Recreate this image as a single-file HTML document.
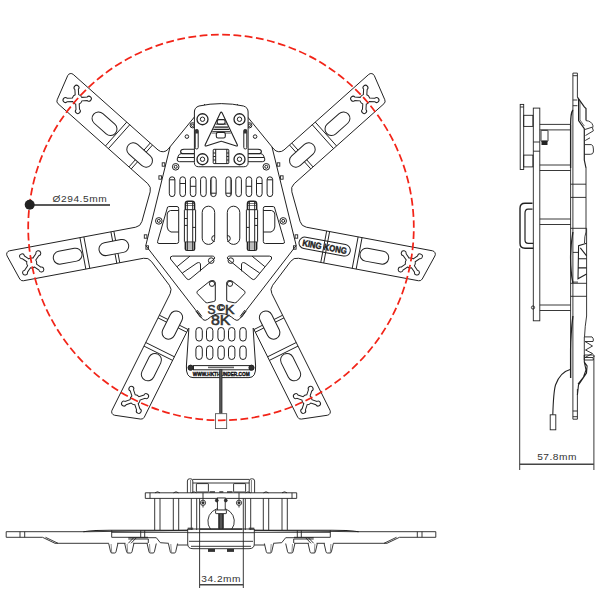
<!DOCTYPE html>
<html><head><meta charset="utf-8"><style>
html,body{margin:0;padding:0;background:#fff;font-family:"Liberation Sans",sans-serif;}
svg{display:block;}
</style></head><body>
<svg width="600" height="612" viewBox="0 0 600 612">
<g fill="none" stroke="#222" stroke-width="1.0"><path d="M205,104 L168.13,149.18 A7,7 0 0 1 158.05,149.99 L73.23,74.41 A3.5,3.5 0 0 0 67.69,75.63 L57.19,99.75 A3.5,3.5 0 0 0 58.07,103.76 L147.79,183.7 A8,8 0 0 1 150.17,191.82 L141.92,221.47 A8,8 0 0 1 135.69,227.19 L9.51,250.8 A3.5,3.5 0 0 0 7.09,255.93 L19.75,278.99 A3.5,3.5 0 0 0 23.46,280.75 L143.46,258.29 A8,8 0 0 1 151.32,261.33 L169.37,285.25 A8,8 0 0 1 170.15,293.64 L112.01,410.24 A3.5,3.5 0 0 0 114.64,415.26 L140.67,419.08 A3.5,3.5 0 0 0 144.31,417.17 L188.69,328.16"/>
<path d="M237,104 L273.87,149.18 A7,7 0 0 0 283.95,149.99 L368.77,74.41 A3.5,3.5 0 0 1 374.31,75.63 L384.81,99.75 A3.5,3.5 0 0 1 383.93,103.76 L294.21,183.7 A8,8 0 0 0 291.83,191.82 L300.08,221.47 A8,8 0 0 0 306.31,227.19 L432.49,250.8 A3.5,3.5 0 0 1 434.91,255.93 L422.25,278.99 A3.5,3.5 0 0 1 418.54,280.75 L298.54,258.29 A8,8 0 0 0 290.68,261.33 L272.63,285.25 A8,8 0 0 0 271.85,293.64 L329.99,410.24 A3.5,3.5 0 0 1 327.36,415.26 L301.33,419.08 A3.5,3.5 0 0 1 297.69,417.17 L253.31,328.16"/>
<path transform="translate(77.2,99.38) rotate(266.7)" d="M4.68,-1.75 L9.99,-1.75 A2.45,2.45 0 1 1 9.99,1.75 L4.68,1.75 A5,5 0 0 1 1.75,4.68 L1.75,9.99 A2.45,2.45 0 1 1 -1.75,9.99 L-1.75,4.68 A5,5 0 0 1 -4.68,1.75 L-9.99,1.75 A2.45,2.45 0 1 1 -9.99,-1.75 L-4.68,-1.75 A5,5 0 0 1 -1.75,-4.68 L-1.75,-9.99 A2.45,2.45 0 1 1 1.75,-9.99 L1.75,-4.68 A5,5 0 0 1 4.68,-1.75 Z"/>
<path transform="translate(104.52,123.72) rotate(221.7)" d="M-8,-6.5 L8,-6.5 A6.5,6.5 0 0 1 8,6.5 L-8,6.5 A6.5,6.5 0 0 1 -8,-6.5 Z"/>
<line x1="129.73" y1="124.75" x2="108.44" y2="148.64" />
<line x1="126.74" y1="122.09" x2="105.45" y2="145.98" />
<path transform="translate(139.62,154.99) rotate(221.7)" d="M-8.5,-6.5 L8.5,-6.5 A6.5,6.5 0 0 1 8.5,6.5 L-8.5,6.5 A6.5,6.5 0 0 1 -8.5,-6.5 Z"/>
<line x1="152.5" y1="145.04" x2="146.18" y2="152.13" />
<line x1="137.53" y1="161.84" x2="131.21" y2="168.93" />
<line x1="150.26" y1="143.04" x2="143.94" y2="150.14" />
<line x1="135.29" y1="159.84" x2="128.97" y2="166.94" />
<path transform="translate(364.8,99.38) rotate(3.3)" d="M4.68,-1.75 L9.99,-1.75 A2.45,2.45 0 1 1 9.99,1.75 L4.68,1.75 A5,5 0 0 1 1.75,4.68 L1.75,9.99 A2.45,2.45 0 1 1 -1.75,9.99 L-1.75,4.68 A5,5 0 0 1 -4.68,1.75 L-9.99,1.75 A2.45,2.45 0 1 1 -9.99,-1.75 L-4.68,-1.75 A5,5 0 0 1 -1.75,-4.68 L-1.75,-9.99 A2.45,2.45 0 1 1 1.75,-9.99 L1.75,-4.68 A5,5 0 0 1 4.68,-1.75 Z"/>
<path transform="translate(337.48,123.72) rotate(-41.7)" d="M-8,-6.5 L8,-6.5 A6.5,6.5 0 0 1 8,6.5 L-8,6.5 A6.5,6.5 0 0 1 -8,-6.5 Z"/>
<line x1="312.27" y1="124.75" x2="333.56" y2="148.64" />
<line x1="315.26" y1="122.09" x2="336.55" y2="145.98" />
<path transform="translate(302.38,154.99) rotate(-41.7)" d="M-8.5,-6.5 L8.5,-6.5 A6.5,6.5 0 0 1 8.5,6.5 L-8.5,6.5 A6.5,6.5 0 0 1 -8.5,-6.5 Z"/>
<line x1="289.5" y1="145.04" x2="295.82" y2="152.13" />
<line x1="304.47" y1="161.84" x2="310.79" y2="168.93" />
<line x1="291.74" y1="143.04" x2="298.06" y2="150.14" />
<line x1="306.71" y1="159.84" x2="313.03" y2="166.94" />
<path transform="translate(31.69,262.93) rotate(214.4)" d="M4.68,-1.75 L9.99,-1.75 A2.45,2.45 0 1 1 9.99,1.75 L4.68,1.75 A5,5 0 0 1 1.75,4.68 L1.75,9.99 A2.45,2.45 0 1 1 -1.75,9.99 L-1.75,4.68 A5,5 0 0 1 -4.68,1.75 L-9.99,1.75 A2.45,2.45 0 1 1 -9.99,-1.75 L-4.68,-1.75 A5,5 0 0 1 -1.75,-4.68 L-1.75,-9.99 A2.45,2.45 0 1 1 1.75,-9.99 L1.75,-4.68 A5,5 0 0 1 4.68,-1.75 Z"/>
<path transform="translate(67.66,256.2) rotate(169.4)" d="M-8,-6.5 L8,-6.5 A6.5,6.5 0 0 1 8,6.5 L-8,6.5 A6.5,6.5 0 0 1 -8,-6.5 Z"/>
<line x1="83.89" y1="236.88" x2="89.77" y2="268.34" />
<line x1="79.95" y1="237.62" x2="85.84" y2="269.07" />
<path transform="translate(113.86,247.55) rotate(169.4)" d="M-8.5,-6.5 L8.5,-6.5 A6.5,6.5 0 0 1 8.5,6.5 L-8.5,6.5 A6.5,6.5 0 0 1 -8.5,-6.5 Z"/>
<line x1="113.87" y1="231.27" x2="115.61" y2="240.61" />
<line x1="118" y1="253.39" x2="119.75" y2="262.73" />
<line x1="110.92" y1="231.82" x2="112.66" y2="241.16" />
<line x1="115.06" y1="253.94" x2="116.8" y2="263.28" />
<path transform="translate(410.31,262.93) rotate(55.6)" d="M4.68,-1.75 L9.99,-1.75 A2.45,2.45 0 1 1 9.99,1.75 L4.68,1.75 A5,5 0 0 1 1.75,4.68 L1.75,9.99 A2.45,2.45 0 1 1 -1.75,9.99 L-1.75,4.68 A5,5 0 0 1 -4.68,1.75 L-9.99,1.75 A2.45,2.45 0 1 1 -9.99,-1.75 L-4.68,-1.75 A5,5 0 0 1 -1.75,-4.68 L-1.75,-9.99 A2.45,2.45 0 1 1 1.75,-9.99 L1.75,-4.68 A5,5 0 0 1 4.68,-1.75 Z"/>
<path transform="translate(374.34,256.2) rotate(10.6)" d="M-8,-6.5 L8,-6.5 A6.5,6.5 0 0 1 8,6.5 L-8,6.5 A6.5,6.5 0 0 1 -8,-6.5 Z"/>
<line x1="358.11" y1="236.88" x2="352.23" y2="268.34" />
<line x1="362.05" y1="237.62" x2="356.16" y2="269.07" />
<line x1="326.66" y1="231" x2="320.77" y2="262.45" />
<line x1="329.61" y1="231.55" x2="323.72" y2="263" />
<g transform="translate(324.66,246.59) rotate(10.6)"><path d="M-20.2,-5.8 L20.2,-5.8 A5.8,5.8 0 0 1 20.2,5.8 L-20.2,5.8 A5.8,5.8 0 0 1 -20.2,-5.8 Z"/><text x="-22.5" y="3.4" font-family="Liberation Sans, sans-serif" font-weight="bold" font-size="9" fill="#222" stroke="#222" stroke-width="0.45" textLength="45" lengthAdjust="spacingAndGlyphs">KING KONG</text></g>
<path transform="translate(135.06,399.86) rotate(161.5)" d="M4.68,-1.75 L9.99,-1.75 A2.45,2.45 0 1 1 9.99,1.75 L4.68,1.75 A5,5 0 0 1 1.75,4.68 L1.75,9.99 A2.45,2.45 0 1 1 -1.75,9.99 L-1.75,4.68 A5,5 0 0 1 -4.68,1.75 L-9.99,1.75 A2.45,2.45 0 1 1 -9.99,-1.75 L-4.68,-1.75 A5,5 0 0 1 -1.75,-4.68 L-1.75,-9.99 A2.45,2.45 0 1 1 1.75,-9.99 L1.75,-4.68 A5,5 0 0 1 4.68,-1.75 Z"/>
<path transform="translate(151.39,367.11) rotate(116.5)" d="M-8,-6.5 L8,-6.5 A6.5,6.5 0 0 1 8,6.5 L-8,6.5 A6.5,6.5 0 0 1 -8,-6.5 Z"/>
<line x1="145.78" y1="342.52" x2="174.41" y2="356.8" />
<line x1="143.99" y1="346.1" x2="172.63" y2="360.38" />
<path transform="translate(172.36,325.05) rotate(116.5)" d="M-8.5,-6.5 L8.5,-6.5 A6.5,6.5 0 0 1 8.5,6.5 L-8.5,6.5 A6.5,6.5 0 0 1 -8.5,-6.5 Z"/>
<line x1="159.38" y1="315.22" x2="167.89" y2="319.46" />
<line x1="179.52" y1="325.26" x2="188.02" y2="329.5" />
<line x1="158.05" y1="317.91" x2="166.55" y2="322.15" />
<line x1="178.18" y1="327.95" x2="186.68" y2="332.19" />
<path transform="translate(306.94,399.86) rotate(108.5)" d="M4.68,-1.75 L9.99,-1.75 A2.45,2.45 0 1 1 9.99,1.75 L4.68,1.75 A5,5 0 0 1 1.75,4.68 L1.75,9.99 A2.45,2.45 0 1 1 -1.75,9.99 L-1.75,4.68 A5,5 0 0 1 -4.68,1.75 L-9.99,1.75 A2.45,2.45 0 1 1 -9.99,-1.75 L-4.68,-1.75 A5,5 0 0 1 -1.75,-4.68 L-1.75,-9.99 A2.45,2.45 0 1 1 1.75,-9.99 L1.75,-4.68 A5,5 0 0 1 4.68,-1.75 Z"/>
<path transform="translate(290.61,367.11) rotate(63.5)" d="M-8,-6.5 L8,-6.5 A6.5,6.5 0 0 1 8,6.5 L-8,6.5 A6.5,6.5 0 0 1 -8,-6.5 Z"/>
<line x1="296.22" y1="342.52" x2="267.59" y2="356.8" />
<line x1="298.01" y1="346.1" x2="269.37" y2="360.38" />
<path transform="translate(269.64,325.05) rotate(63.5)" d="M-8.5,-6.5 L8.5,-6.5 A6.5,6.5 0 0 1 8.5,6.5 L-8.5,6.5 A6.5,6.5 0 0 1 -8.5,-6.5 Z"/>
<line x1="282.62" y1="315.22" x2="274.11" y2="319.46" />
<line x1="262.48" y1="325.26" x2="253.98" y2="329.5" />
<line x1="283.95" y1="317.91" x2="275.45" y2="322.15" />
<line x1="263.82" y1="327.95" x2="255.32" y2="332.19" />
<path d="M170,147 L145.8,245.5 L203,319.6 Q205,321.2 207.5,319.4 C212,315.5 215.5,313.6 221,313.6"/>
<rect x="162.2" y="162.8" width="2.6" height="3.4" rx="0" stroke-width="0.9"/>
<rect x="158.9" y="175.8" width="2.6" height="3.4" rx="0" stroke-width="0.9"/>
<rect x="144.3" y="234.8" width="2.6" height="3.4" rx="0" stroke-width="0.9"/>
<rect x="145.9" y="245.8" width="2.6" height="3.4" rx="0" stroke-width="0.9"/>
<line x1="195.8" y1="311" x2="200.6" y2="317.5" /><line x1="197.2" y1="310.2" x2="201.8" y2="316.4" />
<circle cx="175.7" cy="166.8" r="3.3" />
<circle cx="175.7" cy="166.8" r="1.5" />
<circle cx="158.8" cy="220.9" r="3.3" />
<circle cx="158.8" cy="220.9" r="1.5" />
<rect x="169.3" y="176.8" width="5.6" height="19.8" rx="2.8" />
<rect x="179.9" y="176.8" width="5.6" height="19.8" rx="2.8" />
<rect x="190.3" y="176.8" width="5.6" height="19.8" rx="2.8" />
<rect x="200.6" y="176.8" width="5.6" height="19.8" rx="2.8" />
<rect x="210.6" y="176.8" width="5.6" height="19.8" rx="2.8" />
<line x1="169.3" y1="179.8" x2="174.9" y2="179.8" />
<line x1="179.9" y1="183.5" x2="185.5" y2="183.5" />
<line x1="190.3" y1="186.3" x2="195.9" y2="186.3" />
<line x1="210.6" y1="193.2" x2="216.2" y2="193.2" />
<line x1="211.6" y1="178" x2="211.6" y2="195" stroke-width="0.6"/>
<g stroke-width="1"><path d="M185.3,209.7 L185.3,204 Q185.3,201.3 188,201.3 L192,201.3 Q194.6,201.3 194.6,204 L194.6,209.7" stroke-width="1.4"/><path d="M185.3,242 L185.3,249 Q185.3,250.4 187,250.4 L193,250.4 Q194.6,250.4 194.6,249 L194.6,242" stroke-width="1.4"/><line x1="185.8" y1="244" x2="194.1" y2="244" stroke-width="0.6"/><line x1="185.8" y1="246" x2="194.1" y2="246" stroke-width="0.6"/><line x1="185.8" y1="248" x2="194.1" y2="248" stroke-width="0.6"/><line x1="185.8" y1="203.5" x2="194.1" y2="203.5" stroke-width="0.6"/><line x1="185.8" y1="205.5" x2="194.1" y2="205.5" stroke-width="0.6"/><rect x="184.4" y="209.7" width="11.2" height="32.3" rx="0.5" /><line x1="187.3" y1="201.5" x2="187.3" y2="250" /><line x1="192.7" y1="201.5" x2="192.7" y2="250" /><line x1="184.4" y1="218.5" x2="187.3" y2="218.5" /><line x1="184.4" y1="225.4" x2="187.3" y2="225.4" /><line x1="192.7" y1="227.4" x2="195.6" y2="227.4" /></g>
<rect x="202.2" y="206.2" width="12.5" height="38.2" rx="6.25" />
<path d="M214.7,235.5 A3,3 0 1 0 214.7,241.5"/>
<path d="M167.6,207 Q168.5,206.5 170,206.5 L177,206.5 Q178.7,206.5 178.7,208.5 L178.7,241.5 Q178.7,243.5 176.7,243.5 L159,243.5 Q157,243.5 157.6,241.5 Z"/>
<path d="M178.7,210.5 L170.5,210.5 Q167.5,211 167.2,214 L167.2,227 Q167.5,231 171,232 L178.7,232"/>
<path d="M172.5,256.1 L212.5,256.1 Q215.5,256.5 214.2,259 L190,279 Q188.3,280.3 186.8,278.8 L170.5,259 Q169.5,256.3 172.5,256.1 Z"/>
<circle cx="211.2" cy="260.6" r="2.8" />
<line x1="177.2" y1="266.6" x2="190" y2="256.1" />
<path d="M182.4,273 L197,263 Q200.5,261.5 200.5,265 L200.5,271.3"/>
<path d="M197.3,291.2 L210,281 Q212,280.3 214,280.8 Q215.3,281.5 215.3,283 L215.3,300 Q215.2,301.3 213.8,301.5 L207.5,302.8 Q206,303 205,301.8 L197.3,293.5 Q196.6,292.3 197.3,291.2 Z"/>
<circle cx="212" cy="283.8" r="2.6" /><g transform="translate(442,0) scale(-1,1)"><path d="M170,147 L145.8,245.5 L203,319.6 Q205,321.2 207.5,319.4 C212,315.5 215.5,313.6 221,313.6"/>
<rect x="162.2" y="162.8" width="2.6" height="3.4" rx="0" stroke-width="0.9"/>
<rect x="158.9" y="175.8" width="2.6" height="3.4" rx="0" stroke-width="0.9"/>
<rect x="144.3" y="234.8" width="2.6" height="3.4" rx="0" stroke-width="0.9"/>
<rect x="145.9" y="245.8" width="2.6" height="3.4" rx="0" stroke-width="0.9"/>
<line x1="195.8" y1="311" x2="200.6" y2="317.5" /><line x1="197.2" y1="310.2" x2="201.8" y2="316.4" />
<circle cx="175.7" cy="166.8" r="3.3" />
<circle cx="175.7" cy="166.8" r="1.5" />
<circle cx="158.8" cy="220.9" r="3.3" />
<circle cx="158.8" cy="220.9" r="1.5" />
<rect x="169.3" y="176.8" width="5.6" height="19.8" rx="2.8" />
<rect x="179.9" y="176.8" width="5.6" height="19.8" rx="2.8" />
<rect x="190.3" y="176.8" width="5.6" height="19.8" rx="2.8" />
<rect x="200.6" y="176.8" width="5.6" height="19.8" rx="2.8" />
<rect x="210.6" y="176.8" width="5.6" height="19.8" rx="2.8" />
<line x1="169.3" y1="179.8" x2="174.9" y2="179.8" />
<line x1="179.9" y1="183.5" x2="185.5" y2="183.5" />
<line x1="190.3" y1="186.3" x2="195.9" y2="186.3" />
<line x1="210.6" y1="193.2" x2="216.2" y2="193.2" />
<line x1="211.6" y1="178" x2="211.6" y2="195" stroke-width="0.6"/>
<g stroke-width="1"><path d="M185.3,209.7 L185.3,204 Q185.3,201.3 188,201.3 L192,201.3 Q194.6,201.3 194.6,204 L194.6,209.7" stroke-width="1.4"/><path d="M185.3,242 L185.3,249 Q185.3,250.4 187,250.4 L193,250.4 Q194.6,250.4 194.6,249 L194.6,242" stroke-width="1.4"/><line x1="185.8" y1="244" x2="194.1" y2="244" stroke-width="0.6"/><line x1="185.8" y1="246" x2="194.1" y2="246" stroke-width="0.6"/><line x1="185.8" y1="248" x2="194.1" y2="248" stroke-width="0.6"/><line x1="185.8" y1="203.5" x2="194.1" y2="203.5" stroke-width="0.6"/><line x1="185.8" y1="205.5" x2="194.1" y2="205.5" stroke-width="0.6"/><rect x="184.4" y="209.7" width="11.2" height="32.3" rx="0.5" /><line x1="187.3" y1="201.5" x2="187.3" y2="250" /><line x1="192.7" y1="201.5" x2="192.7" y2="250" /><line x1="184.4" y1="218.5" x2="187.3" y2="218.5" /><line x1="184.4" y1="225.4" x2="187.3" y2="225.4" /><line x1="192.7" y1="227.4" x2="195.6" y2="227.4" /></g>
<rect x="202.2" y="206.2" width="12.5" height="38.2" rx="6.25" />
<path d="M214.7,235.5 A3,3 0 1 0 214.7,241.5"/>
<path d="M167.6,207 Q168.5,206.5 170,206.5 L177,206.5 Q178.7,206.5 178.7,208.5 L178.7,241.5 Q178.7,243.5 176.7,243.5 L159,243.5 Q157,243.5 157.6,241.5 Z"/>
<path d="M178.7,210.5 L170.5,210.5 Q167.5,211 167.2,214 L167.2,227 Q167.5,231 171,232 L178.7,232"/>
<path d="M172.5,256.1 L212.5,256.1 Q215.5,256.5 214.2,259 L190,279 Q188.3,280.3 186.8,278.8 L170.5,259 Q169.5,256.3 172.5,256.1 Z"/>
<circle cx="211.2" cy="260.6" r="2.8" />
<line x1="177.2" y1="266.6" x2="190" y2="256.1" />
<path d="M182.4,273 L197,263 Q200.5,261.5 200.5,265 L200.5,271.3"/>
<path d="M197.3,291.2 L210,281 Q212,280.3 214,280.8 Q215.3,281.5 215.3,283 L215.3,300 Q215.2,301.3 213.8,301.5 L207.5,302.8 Q206,303 205,301.8 L197.3,293.5 Q196.6,292.3 197.3,291.2 Z"/>
<circle cx="212" cy="283.8" r="2.6" /></g>
<path d="M194,149.3 L184,149.3 Q180.6,149.5 180.6,151.6 Q180.8,153.7 183.3,153.7 L194,153.7" stroke-width="1.1"/><path d="M194,153.6 L181.5,153.6 Q179,153.7 178.3,156 L177.2,159 Q176.6,161.7 179.6,161.7 L194,161.7"/><line x1="178" y1="157.5" x2="194" y2="157.5" /><circle cx="192.7" cy="125.3" r="2.6" /><circle cx="192.7" cy="125.3" r="1.2" /><circle cx="186.9" cy="136.6" r="1.8" /><g transform="translate(442,0) scale(-1,1)"><path d="M194,149.3 L184,149.3 Q180.6,149.5 180.6,151.6 Q180.8,153.7 183.3,153.7 L194,153.7" stroke-width="1.1"/><path d="M194,153.6 L181.5,153.6 Q179,153.7 178.3,156 L177.2,159 Q176.6,161.7 179.6,161.7 L194,161.7"/><line x1="178" y1="157.5" x2="194" y2="157.5" /><circle cx="192.7" cy="125.3" r="2.6" /><circle cx="192.7" cy="125.3" r="1.2" /><circle cx="186.9" cy="136.6" r="1.8" /></g>
<path fill="#fff" d="M194.4,112 Q194.4,107.5 199,106 Q210,103.6 221.25,103.6 Q232.5,103.6 243.5,106 Q248.1,107.5 248.1,112 L248.1,162.5 Q248.1,166.75 243.8,166.75 L198.7,166.75 Q194.4,166.75 194.4,162.5 Z"/>
<circle cx="202.5" cy="119.25" r="5.5" stroke-width="1.3"/>
<circle cx="202.5" cy="119.25" r="2.2" />
<circle cx="202.5" cy="159.25" r="5.5" stroke-width="1.3"/>
<circle cx="202.5" cy="159.25" r="2.2" />
<rect x="195.2" y="129.5" width="3" height="19.5" rx="1.5" />
<rect x="195.2" y="129.5" width="3" height="4" fill="#333" stroke="none"/><g transform="translate(442,0) scale(-1,1)"><circle cx="202.5" cy="119.25" r="5.5" stroke-width="1.3"/>
<circle cx="202.5" cy="119.25" r="2.2" />
<circle cx="202.5" cy="159.25" r="5.5" stroke-width="1.3"/>
<circle cx="202.5" cy="159.25" r="2.2" />
<rect x="195.2" y="129.5" width="3" height="19.5" rx="1.5" />
<rect x="195.2" y="129.5" width="3" height="4" fill="#333" stroke="none"/></g>
<path stroke-width="1.1" d="M220.3,113 Q221.25,111.3 222.2,113 L237.3,144.8 Q237.8,146.3 236.3,146 L222.2,141.5 Q221.25,141.1 220.3,141.5 L206.2,146 Q204.7,146.3 205.2,144.8 Z"/>
<line x1="218.02" y1="119.6" x2="224.48" y2="119.6" stroke-width="1.0"/>
<line x1="215.87" y1="124.1" x2="226.63" y2="124.1" stroke-width="1.0"/>
<line x1="214.43" y1="127.1" x2="228.07" y2="127.1" stroke-width="1.3"/>
<line x1="213.33" y1="129.4" x2="229.17" y2="129.4" stroke-width="1.3"/>
<line x1="212.28" y1="131.6" x2="230.22" y2="131.6" stroke-width="0.9"/>
<line x1="211.56" y1="133.1" x2="230.94" y2="133.1" stroke-width="0.7"/>
<rect x="217.25" y="119.6" width="7.85" height="4.5" rx="1.5" fill="#fff" stroke-width="1.1"/>
<rect x="216.3" y="132.4" width="9" height="5.6" rx="1.8" fill="#fff" stroke-width="1.1"/>
<rect x="213.2" y="149.3" width="15.6" height="14.3" rx="0.8" />
<line x1="215.7" y1="149.3" x2="215.7" y2="163.6" /><line x1="226.8" y1="149.3" x2="226.8" y2="163.6" />
<line x1="213.2" y1="153" x2="215.7" y2="153" /><line x1="213.2" y1="156.5" x2="215.7" y2="156.5" /><line x1="213.2" y1="160" x2="215.7" y2="160" />
<line x1="226.8" y1="153" x2="228.8" y2="153" /><line x1="226.8" y1="156.5" x2="228.8" y2="156.5" /><line x1="226.8" y1="160" x2="228.8" y2="160" />
<path fill="#fff" d="M188.9,328 L186.4,366 Q185.8,377.6 193,377.6 L249,377.6 Q256.2,377.6 255.6,366 L253.1,328"/>
<rect x="195.9" y="327.5" width="6.4" height="13.6" rx="3.2" />
<rect x="206.5" y="327.5" width="6.4" height="13.6" rx="3.2" />
<rect x="217.9" y="327.5" width="6.4" height="13.6" rx="3.2" />
<rect x="228.5" y="327.5" width="6.4" height="13.6" rx="3.2" />
<rect x="239.8" y="327.5" width="6.4" height="13.6" rx="3.2" />
<rect x="195.9" y="345.9" width="6.4" height="13.6" rx="3.2" />
<rect x="206.5" y="345.9" width="6.4" height="13.6" rx="3.2" />
<rect x="217.9" y="345.9" width="6.4" height="13.6" rx="3.2" />
<rect x="228.5" y="345.9" width="6.4" height="13.6" rx="3.2" />
<rect x="239.8" y="345.9" width="6.4" height="13.6" rx="3.2" />
<rect x="193.5" y="365.6" width="57.3" height="4.2" rx="0" />
<rect x="208" y="366.6" width="26" height="1.6" fill="#666" stroke="none"/>
<circle cx="190.6" cy="367.7" r="2.6" fill="#333"/>
<circle cx="251.5" cy="367.7" r="2.6" fill="#333"/>
<text x="221.2" y="376.3" text-anchor="middle" font-family="Liberation Sans, sans-serif" font-weight="bold" font-size="6" fill="#111" stroke="#111" stroke-width="0.4" textLength="57" lengthAdjust="spacingAndGlyphs">WWW.HKTHUNDER.COM</text>
<rect x="219.2" y="369" width="3.2" height="44.5" fill="#333" stroke="none"/>
<line x1="220.8" y1="370" x2="220.8" y2="413" stroke="#888" stroke-width="0.6"/>
<rect x="215.4" y="413.7" width="11.3" height="14.9" rx="0" fill="#fff" stroke="#444" stroke-width="0.8"/>
<g fill="#333" stroke="#333" stroke-width="0.55" font-family="Liberation Sans, sans-serif"><text x="207.4" y="314" font-size="12.5" textLength="8" lengthAdjust="spacingAndGlyphs">S</text><text x="217" y="311" font-size="9" textLength="7.8" lengthAdjust="spacingAndGlyphs">©</text><text x="225" y="314" font-size="12.5" textLength="9.5" lengthAdjust="spacingAndGlyphs">K</text><text x="211" y="325.3" font-size="14.5" textLength="19.5" lengthAdjust="spacingAndGlyphs">8K</text></g></g>
<line x1="29.7" y1="205" x2="110" y2="205" stroke="#222" stroke-width="1.3"/>
<text transform="translate(52.5,202.3) scale(1.06,1)" x="0" y="0" font-family="Liberation Sans, sans-serif" font-size="9.6" fill="#333" letter-spacing="0.53">Ø294.5mm</text>
<g fill="none" stroke="#222" stroke-width="0.9"><rect x="520.2" y="104.4" width="3.5" height="65.1" rx="0" />
<line x1="520.2" y1="107" x2="523.7" y2="107" />
<rect x="523.7" y="115.3" width="9.2" height="11.1" rx="0" />
<rect x="523.7" y="155.1" width="9.2" height="11.8" rx="0" />
<rect x="533.3" y="108.1" width="6.5" height="212.7" rx="0" />
<line x1="533.3" y1="142" x2="539.8" y2="142" /><line x1="533.3" y1="151.2" x2="539.8" y2="151.2" />
<line x1="539.8" y1="124.4" x2="570.6" y2="124.4" /><line x1="539.8" y1="129.9" x2="570.6" y2="129.9" />
<line x1="539.8" y1="165" x2="570.6" y2="165" /><line x1="539.8" y1="170.5" x2="570.6" y2="170.5" />
<line x1="539.8" y1="219" x2="570.6" y2="219" /><line x1="539.8" y1="224.5" x2="570.6" y2="224.5" />
<line x1="539.8" y1="305" x2="570.6" y2="305" /><line x1="539.8" y1="310.5" x2="570.6" y2="310.5" />
<rect x="541" y="130.3" width="7" height="11" rx="0.5" />
<rect x="541.5" y="140.5" width="6" height="4.5" fill="#222" stroke="none"/>
<path d="M532.5,203.3 L525,203.3 Q520,203.3 520,208.3 L520,243.3 Q520,248.3 525,248.3 L533.3,248.3" stroke-width="1.4"/>
<path d="M532.5,209.2 L528,209.2 Q525,209.2 525,213.3 L525,240 Q525,243.3 528.3,243.3 L533.3,243.3" stroke-width="1.2"/>
<circle cx="533" cy="307.5" r="1.6" />
<line x1="519.7" y1="248.3" x2="519.7" y2="470" /><line x1="593.9" y1="356" x2="593.9" y2="470" />
<line x1="519.7" y1="464.2" x2="593.9" y2="464.2" stroke="#444" stroke-width="1.4"/>
<path d="M572.9,73.1 L577.4,73.1 L577.4,97.1 M572.9,73.1 L572.9,419.2 L577.4,419.2 L577.4,389"/>
<line x1="572.9" y1="75.7" x2="577.4" y2="75.7" /><line x1="572.9" y1="100" x2="577.4" y2="100" /><line x1="572.9" y1="105.7" x2="577.4" y2="105.7" />
<path d="M577.4,97.1 L584.3,106.9 L586,108.5 L586,120.6" stroke-width="1.2"/>
<path d="M578.6,99 L578.6,120.6 L584.3,128.6 L584.3,160 L586,168" stroke-width="1.2"/><path d="M580,101 L580,120 L584.3,126" stroke-width="0.7"/>
<path d="M572.9,110 Q570.6,113 570.6,125 L570.6,168 M572.9,232 Q570.6,245 570.6,258 Q570.6,272 572.9,283 M572.9,316 Q570.6,335 570.6,350 L570.6,378" stroke-width="1.3"/>
<path d="M570.6,125 L570.6,378"/>
<path d="M586,168 L586,232 Q584.5,236 584.5,243 M586.6,228.4 L586.6,316 Q585,326 584.5,336.9"/>
<path d="M586,120.6 Q591.5,121 592.9,125.5 L592.9,127.4"/>
<path d="M584.9,129.5 L592.2,127.2 L593.4,130.8 L585.5,135.5 M585.2,140.5 L590,137.8 M585,144.6 L591.5,144.6 Q593.4,145.5 593.4,149 L593.4,152 Q593,154.3 590.5,154.3 L584.4,154.3"/>
<line x1="570.6" y1="184.2" x2="586" y2="184.2" /><line x1="570.6" y1="197.4" x2="586" y2="197.4" /><line x1="570.6" y1="228.3" x2="586.6" y2="228.3" />
<line x1="570.6" y1="283.3" x2="586.6" y2="283.3" /><line x1="570.6" y1="296.3" x2="586.6" y2="296.3" />
<path d="M586.6,243.3 L578.6,245.6 L578,278.7 L586.6,274 M580.3,247.9 L586.6,255.9 M578.6,258.7 L586.6,258.7 M578.6,267.9 L586.6,267.9" stroke-width="1.1"/>
<path d="M572.9,252.4 L578,252.4 M572.9,282.1 L578,282.1"/>
<path d="M584.3,336.9 L592,336.9 Q593.4,338 593.4,340 L593,341.5 L585,341.5 L592.5,346 L585.5,350 L592.5,353.5 L585,357.5 L593,357.5 L593.4,360 L584.3,360 L584.3,336.9" stroke-width="0.9"/>
<path d="M584.3,355 L584.3,362 L587.1,366 L586.5,373 L578.5,385 L577.4,395 M584.3,362 L586,370 L583.5,377 L578,384" stroke-width="1.1"/>
<path d="M584.3,355 L594,355 L594,357"/>
<line x1="572.9" y1="411" x2="577.4" y2="411" /><line x1="572.9" y1="416.7" x2="577.4" y2="416.7" />
<path d="M570.8,369.2 Q560,372 555.5,385 Q553.5,392 552.8,414.8" stroke-width="1.1"/>
<rect x="550.2" y="414.8" width="5.6" height="15" rx="0" /></g>
<text transform="translate(537.2,459.9) scale(1.06,1)" x="0" y="0" font-family="Liberation Sans, sans-serif" font-size="9.6" fill="#333" letter-spacing="0.48">57.8mm</text>
<g fill="none" stroke="#222" stroke-width="0.9"><path d="M221,492.8 L145.3,492.8 L145.3,498.4 L221,498.4"/>
<line x1="150" y1="492.8" x2="150" y2="498.4" />
<line x1="154.7" y1="498.4" x2="154.7" y2="530" /><line x1="160" y1="498.4" x2="160" y2="530" />
<line x1="173.3" y1="498.4" x2="173.3" y2="530" /><line x1="178.7" y1="498.4" x2="178.7" y2="530" />
<line x1="191.3" y1="498.4" x2="191.3" y2="530" /><line x1="196.7" y1="498.4" x2="196.7" y2="530" />
<path d="M155,492.8 Q157.5,490.8 160,492.8" />
<path d="M173.5,492.8 Q176,490.8 178.5,492.8" />
<path d="M191.5,492.8 Q194,490.8 196.5,492.8" />
<path d="M187.4,492.8 L187.4,481 Q187.4,478.8 189.6,478.8 L190.6,478.8 Q192.8,478.8 192.8,481 L192.8,492.8"/>
<line x1="192.8" y1="479.4" x2="221" y2="479.4" /><line x1="192.8" y1="483" x2="221" y2="483" /><line x1="190.6" y1="480" x2="190.6" y2="492.8" stroke-width="0.6"/>
<rect x="196.4" y="483.6" width="12" height="8.4" rx="0.5" />
<rect x="209.5" y="491.2" width="5.5" height="1.8" fill="#444" stroke="none"/>
<line x1="203" y1="493" x2="203" y2="500" />
<circle cx="203" cy="502.8" r="2.6" /><circle cx="203" cy="502.8" r="1.1" fill="#333"/><line x1="203" y1="505.4" x2="203" y2="507.5" />
<path d="M221,529 L187.7,529 L187.7,544 Q187.7,548.7 193,548.7 L221,548.7"/>
<line x1="187.7" y1="532.7" x2="221" y2="532.7" /><line x1="189" y1="541.3" x2="221" y2="541.3" /><line x1="191" y1="546.3" x2="221" y2="546.3" />
<rect x="187.7" y="527.6" width="5.5" height="2.2" fill="#333" stroke="none" opacity="0.8"/>
<rect x="208" y="548.9" width="7" height="3" fill="#333" stroke="none"/>
<path d="M187.7,530.3 L90,531.7 L6.2,531.7 L6.2,537.3 L42.5,537.3 L55,543.3 L108.8,543.3"/>
<path d="M83.3,531.7 Q95,530.3 110,530.3 L187.7,530.3" stroke-width="1.1"/>
<line x1="20" y1="531.7" x2="20" y2="537.3" /><line x1="24.7" y1="531.7" x2="24.7" y2="537.3" />
<line x1="45.5" y1="537.3" x2="58" y2="543.3" />
<path d="M111.7,532.3 L187.7,532.3 M111.7,530.3 L111.7,537.3 L148,537.3 M140.7,530.3 L140.7,537.3 M144.7,530.3 L144.7,537.3"/>
<path d="M156.3,537.7 L160.3,542.7 L168.7,543.3 M128.3,537.7 L156.3,537.7 M128.3,539 L148.3,539 L148.3,543 M128.3,543.3 L133.7,537.7 M131,543.3 L136.4,537.7 M177.3,545 L187.7,545"/>
<path d="M117.1,543.3 L125.5,543.3 M133.1,543.3 L147.9,543.3"/>
<path d="M108.7,543.5 L110.6,551.8 Q110.9,553 111.9,553 L114.7,553 Q115.7,553 116,551.8 L117.9,543.5"/>
<line x1="111.1" y1="544" x2="111.7" y2="552.5" stroke-width="0.5"/>
<path d="M124.7,543.5 L126.6,551.8 Q126.9,553 127.9,553 L130.7,553 Q131.7,553 132,551.8 L133.9,543.5"/>
<line x1="127.1" y1="544" x2="127.7" y2="552.5" stroke-width="0.5"/>
<path d="M147.1,543.5 L149,551.8 Q149.3,553 150.3,553 L153.1,553 Q154.1,553 154.4,551.8 L156.3,543.5"/>
<line x1="149.5" y1="544" x2="150.1" y2="552.5" stroke-width="0.5"/>
<path d="M168.4,543.5 L170.3,551.8 Q170.6,553 171.6,553 L174.4,553 Q175.4,553 175.7,551.8 L177.6,543.5"/>
<line x1="170.8" y1="544" x2="171.4" y2="552.5" stroke-width="0.5"/><g transform="translate(442,0) scale(-1,1)"><path d="M221,492.8 L145.3,492.8 L145.3,498.4 L221,498.4"/>
<line x1="150" y1="492.8" x2="150" y2="498.4" />
<line x1="154.7" y1="498.4" x2="154.7" y2="530" /><line x1="160" y1="498.4" x2="160" y2="530" />
<line x1="173.3" y1="498.4" x2="173.3" y2="530" /><line x1="178.7" y1="498.4" x2="178.7" y2="530" />
<line x1="191.3" y1="498.4" x2="191.3" y2="530" /><line x1="196.7" y1="498.4" x2="196.7" y2="530" />
<path d="M155,492.8 Q157.5,490.8 160,492.8" />
<path d="M173.5,492.8 Q176,490.8 178.5,492.8" />
<path d="M191.5,492.8 Q194,490.8 196.5,492.8" />
<path d="M187.4,492.8 L187.4,481 Q187.4,478.8 189.6,478.8 L190.6,478.8 Q192.8,478.8 192.8,481 L192.8,492.8"/>
<line x1="192.8" y1="479.4" x2="221" y2="479.4" /><line x1="192.8" y1="483" x2="221" y2="483" /><line x1="190.6" y1="480" x2="190.6" y2="492.8" stroke-width="0.6"/>
<rect x="196.4" y="483.6" width="12" height="8.4" rx="0.5" />
<rect x="209.5" y="491.2" width="5.5" height="1.8" fill="#444" stroke="none"/>
<line x1="203" y1="493" x2="203" y2="500" />
<circle cx="203" cy="502.8" r="2.6" /><circle cx="203" cy="502.8" r="1.1" fill="#333"/><line x1="203" y1="505.4" x2="203" y2="507.5" />
<path d="M221,529 L187.7,529 L187.7,544 Q187.7,548.7 193,548.7 L221,548.7"/>
<line x1="187.7" y1="532.7" x2="221" y2="532.7" /><line x1="189" y1="541.3" x2="221" y2="541.3" /><line x1="191" y1="546.3" x2="221" y2="546.3" />
<rect x="187.7" y="527.6" width="5.5" height="2.2" fill="#333" stroke="none" opacity="0.8"/>
<rect x="208" y="548.9" width="7" height="3" fill="#333" stroke="none"/>
<path d="M187.7,530.3 L90,531.7 L6.2,531.7 L6.2,537.3 L42.5,537.3 L55,543.3 L108.8,543.3"/>
<path d="M83.3,531.7 Q95,530.3 110,530.3 L187.7,530.3" stroke-width="1.1"/>
<line x1="20" y1="531.7" x2="20" y2="537.3" /><line x1="24.7" y1="531.7" x2="24.7" y2="537.3" />
<line x1="45.5" y1="537.3" x2="58" y2="543.3" />
<path d="M111.7,532.3 L187.7,532.3 M111.7,530.3 L111.7,537.3 L148,537.3 M140.7,530.3 L140.7,537.3 M144.7,530.3 L144.7,537.3"/>
<path d="M156.3,537.7 L160.3,542.7 L168.7,543.3 M128.3,537.7 L156.3,537.7 M128.3,539 L148.3,539 L148.3,543 M128.3,543.3 L133.7,537.7 M131,543.3 L136.4,537.7 M177.3,545 L187.7,545"/>
<path d="M117.1,543.3 L125.5,543.3 M133.1,543.3 L147.9,543.3"/>
<path d="M108.7,543.5 L110.6,551.8 Q110.9,553 111.9,553 L114.7,553 Q115.7,553 116,551.8 L117.9,543.5"/>
<line x1="111.1" y1="544" x2="111.7" y2="552.5" stroke-width="0.5"/>
<path d="M124.7,543.5 L126.6,551.8 Q126.9,553 127.9,553 L130.7,553 Q131.7,553 132,551.8 L133.9,543.5"/>
<line x1="127.1" y1="544" x2="127.7" y2="552.5" stroke-width="0.5"/>
<path d="M147.1,543.5 L149,551.8 Q149.3,553 150.3,553 L153.1,553 Q154.1,553 154.4,551.8 L156.3,543.5"/>
<line x1="149.5" y1="544" x2="150.1" y2="552.5" stroke-width="0.5"/>
<path d="M168.4,543.5 L170.3,551.8 Q170.6,553 171.6,553 L174.4,553 Q175.4,553 175.7,551.8 L177.6,543.5"/>
<line x1="170.8" y1="544" x2="171.4" y2="552.5" stroke-width="0.5"/></g>
<path d="M210.5,529.2 A13.2,13.2 0 1 1 231.7,529.2"/>
<rect x="218" y="513.6" width="6" height="15.6" fill="#555" stroke="none"/>
<line x1="219.5" y1="514" x2="219.5" y2="529" stroke="#222" stroke-width="0.7"/><line x1="222.5" y1="514" x2="222.5" y2="529" stroke="#222" stroke-width="0.7"/>
<rect x="217.4" y="498" width="7.8" height="12.3" fill="#fff"/><rect x="215.6" y="510" width="10.8" height="3.6" rx="0.5" fill="#fff"/>
<rect x="219.3" y="491.2" width="4" height="1.8" fill="#444" stroke="none"/>
<circle cx="216.8" cy="500.5" r="1.4" fill="#333"/><circle cx="225.8" cy="500.5" r="1.4" fill="#333"/>
<line x1="200" y1="529.2" x2="242" y2="529.2" stroke-width="1.2"/>
<line x1="199.6" y1="498.4" x2="199.6" y2="588" /><line x1="243.3" y1="498.4" x2="243.3" y2="588" />
<line x1="199.6" y1="584.7" x2="243.3" y2="584.7" stroke="#444" stroke-width="1.4"/></g>
<text transform="translate(201.3,582) scale(1.06,1)" x="0" y="0" font-family="Liberation Sans, sans-serif" font-size="9.6" fill="#333" letter-spacing="0.48">34.2mm</text>
<circle cx="221" cy="227.5" r="192.8" fill="none" stroke="#f22418" stroke-width="1.75" stroke-dasharray="7.8 3.521" stroke-dashoffset="7.62"/>
<circle cx="29.7" cy="204.8" r="5" fill="#222"/>
</svg>
</body></html>
